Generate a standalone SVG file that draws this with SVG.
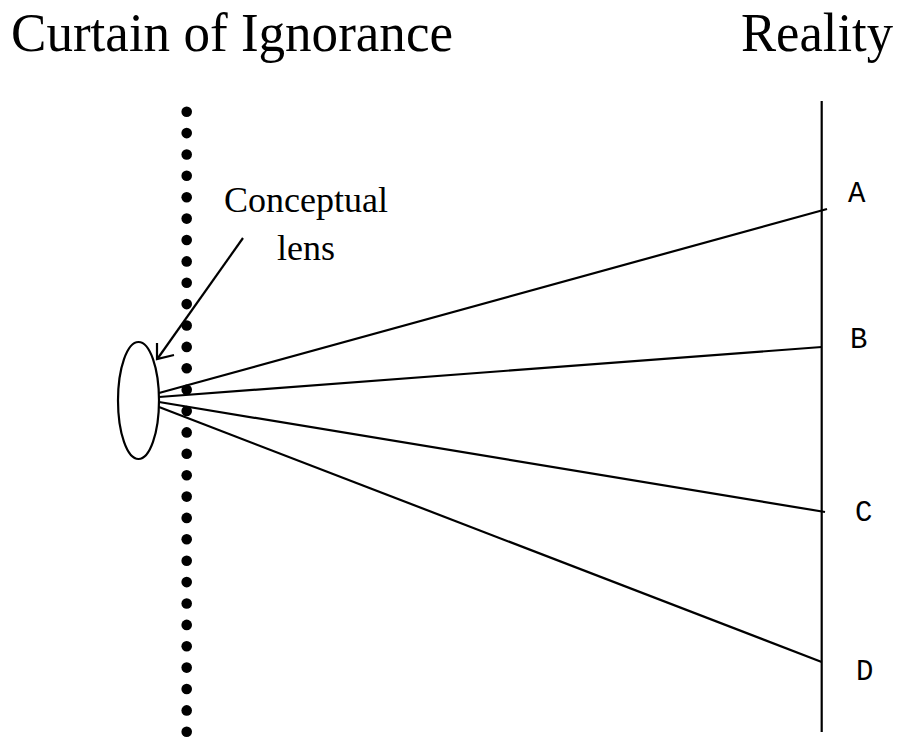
<svg xmlns="http://www.w3.org/2000/svg" width="897" height="738" viewBox="0 0 897 738">
<style>
.title{font-family:"Liberation Serif","Times New Roman",serif;font-size:54px;fill:#000}
.label{font-family:"Liberation Serif","Times New Roman",serif;font-size:36px;fill:#000}
.mono{font-family:"Courier New","Liberation Mono",monospace;font-size:29px;fill:#000}
.ln{stroke:#000;stroke-width:2.2;fill:none}
.dot{fill:#000}
</style>
<defs>
<circle id="d" r="5.3" class="dot"/>
</defs>
<rect width="897" height="738" fill="#fff"/>
<g id="title-curtain"><text class="title" x="11" y="51" textLength="442" lengthAdjust="spacingAndGlyphs">Curtain of Ignorance</text></g>
<g id="title-reality"><text class="title" x="741" y="51" textLength="152" lengthAdjust="spacingAndGlyphs">Reality</text></g>
<g id="curtain">
<use href="#d" x="186.7" y="111.7"/><use href="#d" x="186.7" y="133.1"/><use href="#d" x="186.7" y="154.5"/><use href="#d" x="186.7" y="175.8"/><use href="#d" x="186.7" y="197.2"/><use href="#d" x="186.7" y="218.6"/><use href="#d" x="186.7" y="240"/><use href="#d" x="186.7" y="261.4"/><use href="#d" x="186.7" y="282.7"/><use href="#d" x="186.7" y="304.1"/><use href="#d" x="186.7" y="325.5"/><use href="#d" x="186.7" y="346.9"/><use href="#d" x="186.7" y="368.3"/><use href="#d" x="186.7" y="389.7"/><use href="#d" x="186.7" y="411"/><use href="#d" x="186.7" y="432.4"/><use href="#d" x="186.7" y="453.8"/><use href="#d" x="186.7" y="475.2"/><use href="#d" x="186.7" y="496.6"/><use href="#d" x="186.7" y="517.9"/><use href="#d" x="186.7" y="539.3"/><use href="#d" x="186.7" y="560.7"/><use href="#d" x="186.7" y="582.1"/><use href="#d" x="186.7" y="603.5"/><use href="#d" x="186.7" y="624.9"/><use href="#d" x="186.7" y="646.2"/><use href="#d" x="186.7" y="667.6"/><use href="#d" x="186.7" y="689"/><use href="#d" x="186.7" y="710.4"/><use href="#d" x="186.7" y="731.7"/>
</g>
<g id="lens"><ellipse class="ln" cx="138.5" cy="400.5" rx="20.5" ry="58.5"/></g>
<g id="lens-label"><text class="label" x="224" y="212">Conceptual</text><text class="label" x="277" y="260">lens</text></g>
<g id="reality"><line class="ln" x1="821.7" y1="101" x2="821.7" y2="732"/></g>
<g id="label-A"><text class="mono" x="848" y="202">A</text></g>
<g id="label-B"><text class="mono" x="850" y="348">B</text></g>
<g id="label-C"><text class="mono" x="855" y="521">C</text></g>
<g id="label-D"><text class="mono" x="856" y="680">D</text></g>
<g id="connectors">
<line class="ln" x1="159" y1="393" x2="827" y2="209"/>
<line class="ln" x1="159" y1="397" x2="821.7" y2="347"/>
<line class="ln" x1="159" y1="402" x2="825" y2="512"/>
<line class="ln" x1="159" y1="407" x2="821.7" y2="662"/>
<line class="ln" x1="243" y1="238" x2="158" y2="358"/>
<polyline class="ln" points="157,343 157,359 174,355"/>
</g>
</svg>
